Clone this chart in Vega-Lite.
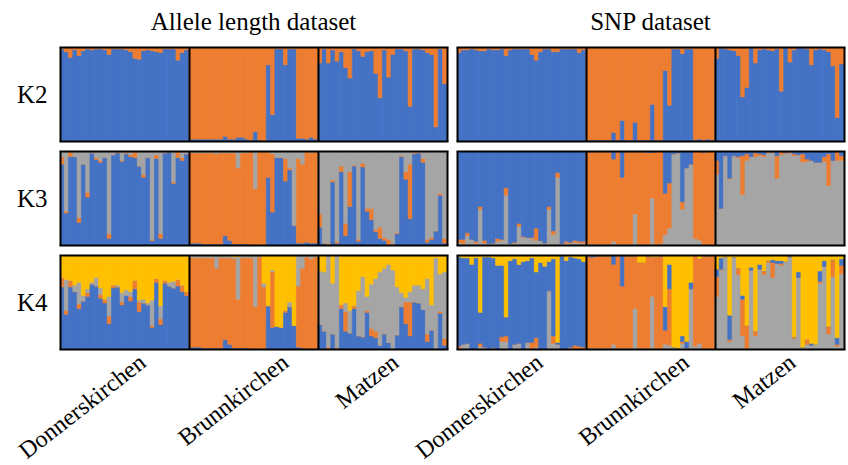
{
"$schema":"https://vega.github.io/schema/vega-lite/v6.json",
"background":"white",
"padding":{"left":14,"top":10,"right":0,"bottom":0},
"spacing":10,
"config":{"view":{"stroke":null},
"scale":{"continuousPadding":0},
"axis":{"ticks":false,"domain":false,"grid":true,"gridWidth":2,"zindex":1,"labelFont":"Liberation Serif","labelFontSize":24,"labelColor":"black","titleFont":"Liberation Serif","titleFontSize":25,"titleFontWeight":"normal","titleColor":"black"},
"axisX":{"gridCap":"butt"},
"axisY":{"gridCap":"square"},
"bar":{"strokeWidth":0.6},
"title":{"font":"Liberation Serif","fontSize":25,"fontWeight":"normal","color":"black","frame":"group","anchor":"middle","offset":12}},
"vconcat":[
{"spacing":10,"bounds":"flush","hconcat":[
{"title":"Allele length dataset","width":387,"height":94,"data":{"name":"AK2"},"transform":[{"fold":["k1b","k2o"]},{"filter":"isValid(datum.value)"}],
"mark":{"type":"bar","width":4.6,"clip":true},
"encoding":{"x":{"field":"i","type":"quantitative","scale":{"domain":[0.5,90.5],"padding":0},"axis":{"zindex":1,"values":[0.5,30.5,60.5,90.5],"gridColor":"black","labels":false,"title":null}},
"y":{"field":"value","type":"quantitative","stack":"normalize","scale":{"domain":[0,1]},"axis":{"zindex":1,"values":[0,1],"gridColor":"black","labels":false,"title":"K2","titleAngle":0,"titleAlign":"right","titleBaseline":"middle","titlePadding":13}},
"color":{"field":"key","type":"nominal","scale":{"domain":["k1b","k2o","k3g","k4y","k1g","k3b"],"range":["#4472C4","#ED7D31","#A5A5A5","#FFC000","#A5A5A5","#4472C4"]},"legend":null},
"stroke":{"field":"key","type":"nominal","scale":{"domain":["k1b","k2o","k3g","k4y","k1g","k3b"],"range":["#4472C4","#ED7D31","#A5A5A5","#FFC000","#A5A5A5","#4472C4"]},"legend":null},
"order":{"field":"key"}}},
{"title":"SNP dataset","width":387,"height":94,"data":{"name":"SK2"},"transform":[{"fold":["k1b","k2o"]},{"filter":"isValid(datum.value)"}],
"mark":{"type":"bar","width":4.6,"clip":true},
"encoding":{"x":{"field":"i","type":"quantitative","scale":{"domain":[0.5,90.5],"padding":0},"axis":{"zindex":1,"values":[0.5,30.5,60.5,90.5],"gridColor":"black","labels":false,"title":null}},
"y":{"field":"value","type":"quantitative","stack":"normalize","scale":{"domain":[0,1]},"axis":{"zindex":1,"values":[0,1],"gridColor":"black","labels":false,"title":null}},
"color":{"field":"key","type":"nominal","scale":{"domain":["k1b","k2o","k3g","k4y","k1g","k3b"],"range":["#4472C4","#ED7D31","#A5A5A5","#FFC000","#A5A5A5","#4472C4"]},"legend":null},
"stroke":{"field":"key","type":"nominal","scale":{"domain":["k1b","k2o","k3g","k4y","k1g","k3b"],"range":["#4472C4","#ED7D31","#A5A5A5","#FFC000","#A5A5A5","#4472C4"]},"legend":null},
"order":{"field":"key"}}}
]},
{"spacing":10,"bounds":"flush","hconcat":[
{"width":387,"height":94,"data":{"name":"AK3"},"transform":[{"fold":["k1b","k2o","k3g"]},{"filter":"isValid(datum.value)"}],
"mark":{"type":"bar","width":4.6,"clip":true},
"encoding":{"x":{"field":"i","type":"quantitative","scale":{"domain":[0.5,90.5],"padding":0},"axis":{"zindex":1,"values":[0.5,30.5,60.5,90.5],"gridColor":"black","labels":false,"title":null}},
"y":{"field":"value","type":"quantitative","stack":"normalize","scale":{"domain":[0,1]},"axis":{"zindex":1,"values":[0,1],"gridColor":"black","labels":false,"title":"K3","titleAngle":0,"titleAlign":"right","titleBaseline":"middle","titlePadding":13}},
"color":{"field":"key","type":"nominal","scale":{"domain":["k1b","k2o","k3g","k4y","k1g","k3b"],"range":["#4472C4","#ED7D31","#A5A5A5","#FFC000","#A5A5A5","#4472C4"]},"legend":null},
"stroke":{"field":"key","type":"nominal","scale":{"domain":["k1b","k2o","k3g","k4y","k1g","k3b"],"range":["#4472C4","#ED7D31","#A5A5A5","#FFC000","#A5A5A5","#4472C4"]},"legend":null},
"order":{"field":"key"}}},
{"width":387,"height":94,"data":{"name":"SK3"},"transform":[{"fold":["k1g","k2o","k3b"]},{"filter":"isValid(datum.value)"}],
"mark":{"type":"bar","width":4.6,"clip":true},
"encoding":{"x":{"field":"i","type":"quantitative","scale":{"domain":[0.5,90.5],"padding":0},"axis":{"zindex":1,"values":[0.5,30.5,60.5,90.5],"gridColor":"black","labels":false,"title":null}},
"y":{"field":"value","type":"quantitative","stack":"normalize","scale":{"domain":[0,1]},"axis":{"zindex":1,"values":[0,1],"gridColor":"black","labels":false,"title":null}},
"color":{"field":"key","type":"nominal","scale":{"domain":["k1b","k2o","k3g","k4y","k1g","k3b"],"range":["#4472C4","#ED7D31","#A5A5A5","#FFC000","#A5A5A5","#4472C4"]},"legend":null},
"stroke":{"field":"key","type":"nominal","scale":{"domain":["k1b","k2o","k3g","k4y","k1g","k3b"],"range":["#4472C4","#ED7D31","#A5A5A5","#FFC000","#A5A5A5","#4472C4"]},"legend":null},
"order":{"field":"key"}}}
]},
{"spacing":10,"bounds":"flush","hconcat":[
{"width":387,"height":94,"data":{"name":"AK4"},"transform":[{"fold":["k1b","k2o","k3g","k4y"]},{"filter":"isValid(datum.value)"}],
"mark":{"type":"bar","width":4.6,"clip":true},
"encoding":{"x":{"field":"i","type":"quantitative","scale":{"domain":[0.5,90.5],"padding":0},"axis":{"zindex":1,"values":[0.5,18,30.5,51.2,60.5,76.8,90.5],"gridColor":{"condition":{"test":"datum.value==0.5||datum.value==30.5||datum.value==60.5||datum.value==90.5","value":"black"},"value":"transparent"},"labelExpr":"datum.value==18?'Donnerskirchen':datum.value==51.2?'Brunnkirchen':datum.value==76.8?'Matzen':''","labelAngle":-38,"labelAlign":"right","labelBaseline":"top","labelPadding":1,"labelFlush":false,"labelOverlap":false,"labelBound":false,"title":null}},
"y":{"field":"value","type":"quantitative","stack":"normalize","scale":{"domain":[0,1]},"axis":{"zindex":1,"values":[0,1],"gridColor":"black","labels":false,"title":"K4","titleAngle":0,"titleAlign":"right","titleBaseline":"middle","titlePadding":13}},
"color":{"field":"key","type":"nominal","scale":{"domain":["k1b","k2o","k3g","k4y","k1g","k3b"],"range":["#4472C4","#ED7D31","#A5A5A5","#FFC000","#A5A5A5","#4472C4"]},"legend":null},
"stroke":{"field":"key","type":"nominal","scale":{"domain":["k1b","k2o","k3g","k4y","k1g","k3b"],"range":["#4472C4","#ED7D31","#A5A5A5","#FFC000","#A5A5A5","#4472C4"]},"legend":null},
"order":{"field":"key"}}},
{"width":387,"height":94,"data":{"name":"SK4"},"transform":[{"fold":["k1g","k2o","k3b","k4y"]},{"filter":"isValid(datum.value)"}],
"mark":{"type":"bar","width":4.6,"clip":true},
"encoding":{"x":{"field":"i","type":"quantitative","scale":{"domain":[0.5,90.5],"padding":0},"axis":{"zindex":1,"values":[0.5,18,30.5,52,60.5,76.8,90.5],"gridColor":{"condition":{"test":"datum.value==0.5||datum.value==30.5||datum.value==60.5||datum.value==90.5","value":"black"},"value":"transparent"},"labelExpr":"datum.value==18?'Donnerskirchen':datum.value==52?'Brunnkirchen':datum.value==76.8?'Matzen':''","labelAngle":-38,"labelAlign":"right","labelBaseline":"top","labelPadding":1,"labelFlush":false,"labelOverlap":false,"labelBound":false,"title":null}},
"y":{"field":"value","type":"quantitative","stack":"normalize","scale":{"domain":[0,1]},"axis":{"zindex":1,"values":[0,1],"gridColor":"black","labels":false,"title":null}},
"color":{"field":"key","type":"nominal","scale":{"domain":["k1b","k2o","k3g","k4y","k1g","k3b"],"range":["#4472C4","#ED7D31","#A5A5A5","#FFC000","#A5A5A5","#4472C4"]},"legend":null},
"stroke":{"field":"key","type":"nominal","scale":{"domain":["k1b","k2o","k3g","k4y","k1g","k3b"],"range":["#4472C4","#ED7D31","#A5A5A5","#FFC000","#A5A5A5","#4472C4"]},"legend":null},
"order":{"field":"key"}}}
]}
],
"datasets":{
"AK2":[
{"i":1,"k1b":0.98,"k2o":0.02},{"i":2,"k1b":0.95,"k2o":0.05},{"i":3,"k1b":0.89,"k2o":0.11},{"i":4,"k1b":0.97,"k2o":0.03},{"i":5,"k1b":0.91,"k2o":0.09},{"i":6,"k1b":0.96,"k2o":0.04},{"i":7,"k1b":0.98,"k2o":0.02},{"i":8,"k1b":0.97,"k2o":0.03},{"i":9,"k1b":0.98,"k2o":0.02},{"i":10,"k1b":0.98,"k2o":0.02},
{"i":11,"k1b":0.97,"k2o":0.03},{"i":12,"k1b":0.92,"k2o":0.08},{"i":13,"k1b":0.98,"k2o":0.02},{"i":14,"k1b":0.98,"k2o":0.02},{"i":15,"k1b":0.98,"k2o":0.02},{"i":16,"k1b":0.97,"k2o":0.03},{"i":17,"k1b":0.95,"k2o":0.05},{"i":18,"k1b":0.88,"k2o":0.12},{"i":19,"k1b":0.87,"k2o":0.13},{"i":20,"k1b":0.96,"k2o":0.04},
{"i":21,"k1b":0.97,"k2o":0.03},{"i":22,"k1b":0.96,"k2o":0.04},{"i":23,"k1b":0.95,"k2o":0.05},{"i":24,"k1b":0.94,"k2o":0.06},{"i":25,"k1b":0.98,"k2o":0.02},{"i":26,"k1b":0.98,"k2o":0.02},{"i":27,"k1b":0.98,"k2o":0.02},{"i":28,"k1b":0.86,"k2o":0.14},{"i":29,"k1b":0.94,"k2o":0.06},{"i":30,"k1b":0.97,"k2o":0.03},
{"i":31,"k1b":0.02,"k2o":0.98},{"i":32,"k1b":0.02,"k2o":0.98},{"i":33,"k1b":0.02,"k2o":0.98},{"i":34,"k1b":0.02,"k2o":0.98},{"i":35,"k1b":0.02,"k2o":0.98},{"i":36,"k1b":0.02,"k2o":0.98},{"i":37,"k1b":0.02,"k2o":0.98},{"i":38,"k1b":0.02,"k2o":0.98},{"i":39,"k1b":0.05,"k2o":0.95},{"i":40,"k1b":0.02,"k2o":0.98},
{"i":41,"k1b":0.02,"k2o":0.98},{"i":42,"k1b":0.04,"k2o":0.96},{"i":43,"k1b":0.04,"k2o":0.96},{"i":44,"k1b":0.02,"k2o":0.98},{"i":45,"k1b":0.01,"k2o":0.99},{"i":46,"k1b":0.1,"k2o":0.9},{"i":47,"k1b":0.01,"k2o":0.99},{"i":48,"k1b":0,"k2o":1},{"i":49,"k1b":0.81,"k2o":0.19},{"i":50,"k1b":0.28,"k2o":0.72},
{"i":51,"k1b":0.98,"k2o":0.02},{"i":52,"k1b":0.98,"k2o":0.02},{"i":53,"k1b":0.81,"k2o":0.19},{"i":54,"k1b":0.98,"k2o":0.02},{"i":55,"k1b":0.98,"k2o":0.02},{"i":56,"k1b":0.03,"k2o":0.97},{"i":57,"k1b":0.03,"k2o":0.97},{"i":58,"k1b":0.02,"k2o":0.98},{"i":59,"k1b":0.04,"k2o":0.96},{"i":60,"k1b":0.02,"k2o":0.98},
{"i":61,"k1b":0.83,"k2o":0.17},{"i":62,"k1b":0.98,"k2o":0.02},{"i":63,"k1b":0.83,"k2o":0.17},{"i":64,"k1b":0.97,"k2o":0.03},{"i":65,"k1b":0.85,"k2o":0.15},{"i":66,"k1b":0.95,"k2o":0.05},{"i":67,"k1b":0.78,"k2o":0.22},{"i":68,"k1b":0.67,"k2o":0.33},{"i":69,"k1b":0.98,"k2o":0.02},{"i":70,"k1b":0.96,"k2o":0.04},
{"i":71,"k1b":0.9,"k2o":0.1},{"i":72,"k1b":0.95,"k2o":0.05},{"i":73,"k1b":0.96,"k2o":0.04},{"i":74,"k1b":0.72,"k2o":0.28},{"i":75,"k1b":0.46,"k2o":0.54},{"i":76,"k1b":0.97,"k2o":0.03},{"i":77,"k1b":0.68,"k2o":0.32},{"i":78,"k1b":0.92,"k2o":0.08},{"i":79,"k1b":0.98,"k2o":0.02},{"i":80,"k1b":0.98,"k2o":0.02},
{"i":81,"k1b":0.96,"k2o":0.04},{"i":82,"k1b":0.37,"k2o":0.63},{"i":83,"k1b":0.98,"k2o":0.02},{"i":84,"k1b":0.98,"k2o":0.02},{"i":85,"k1b":0.97,"k2o":0.03},{"i":86,"k1b":0.94,"k2o":0.06},{"i":87,"k1b":0.92,"k2o":0.08},{"i":88,"k1b":0.15,"k2o":0.85},{"i":89,"k1b":0.98,"k2o":0.02},{"i":90,"k1b":0.61,"k2o":0.39}],
"SK2":[
{"i":1,"k1b":0.94,"k2o":0.06},{"i":2,"k1b":0.97,"k2o":0.03},{"i":3,"k1b":0.97,"k2o":0.03},{"i":4,"k1b":0.98,"k2o":0.02},{"i":5,"k1b":0.97,"k2o":0.03},{"i":6,"k1b":0.96,"k2o":0.04},{"i":7,"k1b":0.96,"k2o":0.04},{"i":8,"k1b":0.98,"k2o":0.02},{"i":9,"k1b":0.97,"k2o":0.03},{"i":10,"k1b":0.97,"k2o":0.03},
{"i":11,"k1b":0.98,"k2o":0.02},{"i":12,"k1b":0.91,"k2o":0.09},{"i":13,"k1b":0.97,"k2o":0.03},{"i":14,"k1b":0.98,"k2o":0.02},{"i":15,"k1b":0.98,"k2o":0.02},{"i":16,"k1b":0.98,"k2o":0.02},{"i":17,"k1b":0.98,"k2o":0.02},{"i":18,"k1b":0.92,"k2o":0.08},{"i":19,"k1b":0.86,"k2o":0.14},{"i":20,"k1b":0.95,"k2o":0.05},
{"i":21,"k1b":0.98,"k2o":0.02},{"i":22,"k1b":0.98,"k2o":0.02},{"i":23,"k1b":0.95,"k2o":0.05},{"i":24,"k1b":0.95,"k2o":0.05},{"i":25,"k1b":0.98,"k2o":0.02},{"i":26,"k1b":0.98,"k2o":0.02},{"i":27,"k1b":0.98,"k2o":0.02},{"i":28,"k1b":0.98,"k2o":0.02},{"i":29,"k1b":0.94,"k2o":0.06},{"i":30,"k1b":0.97,"k2o":0.03},
{"i":31,"k1b":0.01,"k2o":0.99},{"i":32,"k1b":0.01,"k2o":0.99},{"i":33,"k1b":0.01,"k2o":0.99},{"i":34,"k1b":0.01,"k2o":0.99},{"i":35,"k1b":0.01,"k2o":0.99},{"i":36,"k1b":0.01,"k2o":0.99},{"i":37,"k1b":0.09,"k2o":0.91},{"i":38,"k1b":0.01,"k2o":0.99},{"i":39,"k1b":0.22,"k2o":0.78},{"i":40,"k1b":0.01,"k2o":0.99},
{"i":41,"k1b":0.01,"k2o":0.99},{"i":42,"k1b":0.2,"k2o":0.8},{"i":43,"k1b":0.01,"k2o":0.99},{"i":44,"k1b":0.01,"k2o":0.99},{"i":45,"k1b":0.01,"k2o":0.99},{"i":46,"k1b":0.39,"k2o":0.61},{"i":47,"k1b":0.01,"k2o":0.99},{"i":48,"k1b":0.01,"k2o":0.99},{"i":49,"k1b":0.75,"k2o":0.25},{"i":50,"k1b":0.38,"k2o":0.62},
{"i":51,"k1b":0.98,"k2o":0.02},{"i":52,"k1b":0.98,"k2o":0.02},{"i":53,"k1b":0.93,"k2o":0.07},{"i":54,"k1b":0.98,"k2o":0.02},{"i":55,"k1b":0.98,"k2o":0.02},{"i":56,"k1b":0.01,"k2o":0.99},{"i":57,"k1b":0.02,"k2o":0.98},{"i":58,"k1b":0.01,"k2o":0.99},{"i":59,"k1b":0.02,"k2o":0.98},{"i":60,"k1b":0.01,"k2o":0.99},
{"i":61,"k1b":0.88,"k2o":0.12},{"i":62,"k1b":0.99,"k2o":0.01},{"i":63,"k1b":0.98,"k2o":0.02},{"i":64,"k1b":0.97,"k2o":0.03},{"i":65,"k1b":0.96,"k2o":0.04},{"i":66,"k1b":0.91,"k2o":0.09},{"i":67,"k1b":0.47,"k2o":0.53},{"i":68,"k1b":0.57,"k2o":0.43},{"i":69,"k1b":0.99,"k2o":0.01},{"i":70,"k1b":0.83,"k2o":0.17},
{"i":71,"k1b":0.97,"k2o":0.03},{"i":72,"k1b":0.98,"k2o":0.02},{"i":73,"k1b":0.97,"k2o":0.03},{"i":74,"k1b":0.96,"k2o":0.04},{"i":75,"k1b":0.98,"k2o":0.02},{"i":76,"k1b":0.53,"k2o":0.47},{"i":77,"k1b":0.99,"k2o":0.01},{"i":78,"k1b":0.84,"k2o":0.16},{"i":79,"k1b":0.97,"k2o":0.03},{"i":80,"k1b":0.99,"k2o":0.01},
{"i":81,"k1b":0.99,"k2o":0.01},{"i":82,"k1b":0.98,"k2o":0.02},{"i":83,"k1b":0.81,"k2o":0.19},{"i":84,"k1b":0.97,"k2o":0.03},{"i":85,"k1b":0.98,"k2o":0.02},{"i":86,"k1b":0.97,"k2o":0.03},{"i":87,"k1b":0.95,"k2o":0.05},{"i":88,"k1b":0.8,"k2o":0.2},{"i":89,"k1b":0.25,"k2o":0.75},{"i":90,"k1b":0.82,"k2o":0.18}],
"AK3":[
{"i":1,"k1b":0.86,"k2o":0.08,"k3g":0.06},{"i":2,"k1b":0.34,"k2o":0.02,"k3g":0.64},{"i":3,"k1b":0.94,"k2o":0.05,"k3g":0.01},{"i":4,"k1b":0.94,"k2o":0,"k3g":0.06},{"i":5,"k1b":0.24,"k2o":0.05,"k3g":0.71},{"i":6,"k1b":0.86,"k2o":0,"k3g":0.14},{"i":7,"k1b":0.51,"k2o":0.05,"k3g":0.44},{"i":8,"k1b":0.98,"k2o":0,"k3g":0.02},{"i":9,"k1b":0.91,"k2o":0.02,"k3g":0.07},{"i":10,"k1b":0.88,"k2o":0.02,"k3g":0.1},
{"i":11,"k1b":0.93,"k2o":0,"k3g":0.07},{"i":12,"k1b":0.07,"k2o":0.05,"k3g":0.88},{"i":13,"k1b":0.96,"k2o":0,"k3g":0.04},{"i":14,"k1b":0.98,"k2o":0.01,"k3g":0.01},{"i":15,"k1b":0.89,"k2o":0.01,"k3g":0.1},{"i":16,"k1b":0.97,"k2o":0.01,"k3g":0.02},{"i":17,"k1b":0.94,"k2o":0.02,"k3g":0.04},{"i":18,"k1b":0.93,"k2o":0.06,"k3g":0.01},{"i":19,"k1b":0.84,"k2o":0,"k3g":0.16},{"i":20,"k1b":0.72,"k2o":0.03,"k3g":0.25},
{"i":21,"k1b":0.93,"k2o":0,"k3g":0.07},{"i":22,"k1b":0.045,"k2o":0.015,"k3g":0.94},{"i":23,"k1b":0.92,"k2o":0.04,"k3g":0.04},{"i":24,"k1b":0.07,"k2o":0.05,"k3g":0.88},{"i":25,"k1b":0.98,"k2o":0,"k3g":0.02},{"i":26,"k1b":0.99,"k2o":0,"k3g":0.01},{"i":27,"k1b":0.655,"k2o":0.015,"k3g":0.33},{"i":28,"k1b":0.93,"k2o":0.06,"k3g":0.01},{"i":29,"k1b":0.9,"k2o":0.03,"k3g":0.07},{"i":30,"k1b":0.97,"k2o":0,"k3g":0.03},
{"i":31,"k1b":0.02,"k2o":0.96,"k3g":0.02},{"i":32,"k1b":0.02,"k2o":0.96,"k3g":0.02},{"i":33,"k1b":0.02,"k2o":0.96,"k3g":0.02},{"i":34,"k1b":0.01,"k2o":0.97,"k3g":0.02},{"i":35,"k1b":0.01,"k2o":0.97,"k3g":0.02},{"i":36,"k1b":0.01,"k2o":0.97,"k3g":0.02},{"i":37,"k1b":0.01,"k2o":0.96,"k3g":0.03},{"i":38,"k1b":0.01,"k2o":0.97,"k3g":0.02},{"i":39,"k1b":0.1,"k2o":0.88,"k3g":0.02},{"i":40,"k1b":0.05,"k2o":0.93,"k3g":0.02},
{"i":41,"k1b":0.01,"k2o":0.97,"k3g":0.02},{"i":42,"k1b":0.01,"k2o":0.81,"k3g":0.18},{"i":43,"k1b":0.01,"k2o":0.97,"k3g":0.02},{"i":44,"k1b":0.01,"k2o":0.97,"k3g":0.02},{"i":45,"k1b":0,"k2o":0.99,"k3g":0.01},{"i":46,"k1b":0,"k2o":0.6,"k3g":0.4},{"i":47,"k1b":0,"k2o":0.99,"k3g":0.01},{"i":48,"k1b":0,"k2o":0.99,"k3g":0.01},{"i":49,"k1b":0.72,"k2o":0.27,"k3g":0.01},{"i":50,"k1b":0.35,"k2o":0.62,"k3g":0.03},
{"i":51,"k1b":0.93,"k2o":0,"k3g":0.07},{"i":52,"k1b":0.93,"k2o":0,"k3g":0.07},{"i":53,"k1b":0.68,"k2o":0.24,"k3g":0.08},{"i":54,"k1b":0.8,"k2o":0.02,"k3g":0.18},{"i":55,"k1b":0.21,"k2o":0,"k3g":0.79},{"i":56,"k1b":0.02,"k2o":0.9,"k3g":0.08},{"i":57,"k1b":0.02,"k2o":0.84,"k3g":0.14},{"i":58,"k1b":0.03,"k2o":0.97,"k3g":0},{"i":59,"k1b":0.02,"k2o":0.96,"k3g":0.02},{"i":60,"k1b":0.02,"k2o":0.97,"k3g":0.01},
{"i":61,"k1b":0.19,"k2o":0.14,"k3g":0.67},{"i":62,"k1b":0.02,"k2o":0,"k3g":0.98},{"i":63,"k1b":0,"k2o":0.015,"k3g":0.985},{"i":64,"k1b":0.67,"k2o":0.02,"k3g":0.31},{"i":65,"k1b":0.02,"k2o":0.02,"k3g":0.96},{"i":66,"k1b":0.78,"k2o":0.06,"k3g":0.16},{"i":67,"k1b":0.1,"k2o":0.13,"k3g":0.77},{"i":68,"k1b":0.41,"k2o":0.37,"k3g":0.22},{"i":69,"k1b":0.84,"k2o":0.01,"k3g":0.15},{"i":70,"k1b":0.04,"k2o":0.02,"k3g":0.94},
{"i":71,"k1b":0.83,"k2o":0.04,"k3g":0.13},{"i":72,"k1b":0.36,"k2o":0.03,"k3g":0.61},{"i":73,"k1b":0.27,"k2o":0.12,"k3g":0.61},{"i":74,"k1b":0.14,"k2o":0.02,"k3g":0.84},{"i":75,"k1b":0.07,"k2o":0.12,"k3g":0.81},{"i":76,"k1b":0.05,"k2o":0.03,"k3g":0.92},{"i":77,"k1b":0,"k2o":0.06,"k3g":0.94},{"i":78,"k1b":0,"k2o":0.01,"k3g":0.99},{"i":79,"k1b":0.12,"k2o":0.01,"k3g":0.87},{"i":80,"k1b":0.94,"k2o":0.01,"k3g":0.05},
{"i":81,"k1b":0.7,"k2o":0.08,"k3g":0.22},{"i":82,"k1b":0.28,"k2o":0.58,"k3g":0.14},{"i":83,"k1b":0.97,"k2o":0.01,"k3g":0.02},{"i":84,"k1b":0.98,"k2o":0,"k3g":0.02},{"i":85,"k1b":0.88,"k2o":0.04,"k3g":0.08},{"i":86,"k1b":0.03,"k2o":0.03,"k3g":0.94},{"i":87,"k1b":0.06,"k2o":0.02,"k3g":0.92},{"i":88,"k1b":0.15,"k2o":0,"k3g":0.85},{"i":89,"k1b":0.53,"k2o":0.02,"k3g":0.45},{"i":90,"k1b":0.02,"k2o":0.05,"k3g":0.93}],
"SK3":[
{"i":1,"k1g":0.03,"k2o":0.03,"k3b":0.94},{"i":2,"k1g":0.015,"k2o":0.045,"k3b":0.94},{"i":3,"k1g":0.1,"k2o":0.03,"k3b":0.87},{"i":4,"k1g":0.06,"k2o":0,"k3b":0.94},{"i":5,"k1g":0.02,"k2o":0.02,"k3b":0.96},{"i":6,"k1g":0.38,"k2o":0.03,"k3b":0.59},{"i":7,"k1g":0.02,"k2o":0.03,"k3b":0.95},{"i":8,"k1g":0.015,"k2o":0,"k3b":0.985},{"i":9,"k1g":0.02,"k2o":0,"k3b":0.98},{"i":10,"k1g":0.04,"k2o":0.03,"k3b":0.93},
{"i":11,"k1g":0.05,"k2o":0.01,"k3b":0.94},{"i":12,"k1g":0.53,"k2o":0.08,"k3b":0.39},{"i":13,"k1g":0.015,"k2o":0,"k3b":0.985},{"i":14,"k1g":0.02,"k2o":0.01,"k3b":0.97},{"i":15,"k1g":0.2,"k2o":0.03,"k3b":0.77},{"i":16,"k1g":0.08,"k2o":0.01,"k3b":0.91},{"i":17,"k1g":0.08,"k2o":0,"k3b":0.92},{"i":18,"k1g":0.07,"k2o":0.01,"k3b":0.92},{"i":19,"k1g":0.05,"k2o":0.13,"k3b":0.82},{"i":20,"k1g":0.045,"k2o":0,"k3b":0.955},
{"i":21,"k1g":0.02,"k2o":0,"k3b":0.98},{"i":22,"k1g":0.38,"k2o":0.03,"k3b":0.59},{"i":23,"k1g":0.11,"k2o":0.04,"k3b":0.85},{"i":24,"k1g":0.72,"k2o":0.05,"k3b":0.23},{"i":25,"k1g":0.015,"k2o":0,"k3b":0.985},{"i":26,"k1g":0.02,"k2o":0.02,"k3b":0.96},{"i":27,"k1g":0.02,"k2o":0.01,"k3b":0.97},{"i":28,"k1g":0.03,"k2o":0.02,"k3b":0.95},{"i":29,"k1g":0.02,"k2o":0.02,"k3b":0.96},{"i":30,"k1g":0.02,"k2o":0.02,"k3b":0.96},
{"i":31,"k1g":0.01,"k2o":0.98,"k3b":0.01},{"i":32,"k1g":0.01,"k2o":0.98,"k3b":0.01},{"i":33,"k1g":0.01,"k2o":0.98,"k3b":0.01},{"i":34,"k1g":0.01,"k2o":0.98,"k3b":0.01},{"i":35,"k1g":0.01,"k2o":0.98,"k3b":0.01},{"i":36,"k1g":0.01,"k2o":0.98,"k3b":0.01},{"i":37,"k1g":0.04,"k2o":0.875,"k3b":0.085},{"i":38,"k1g":0.01,"k2o":0.98,"k3b":0.01},{"i":39,"k1g":0.01,"k2o":0.71,"k3b":0.28},{"i":40,"k1g":0.01,"k2o":0.98,"k3b":0.01},
{"i":41,"k1g":0.01,"k2o":0.98,"k3b":0.01},{"i":42,"k1g":0.33,"k2o":0.66,"k3b":0.01},{"i":43,"k1g":0.01,"k2o":0.98,"k3b":0.01},{"i":44,"k1g":0.01,"k2o":0.98,"k3b":0.01},{"i":45,"k1g":0,"k2o":0.985,"k3b":0.015},{"i":46,"k1g":0.5,"k2o":0.485,"k3b":0.015},{"i":47,"k1g":0,"k2o":1,"k3b":0},{"i":48,"k1g":0.015,"k2o":0.985,"k3b":0},{"i":49,"k1g":0.11,"k2o":0.44,"k3b":0.45},{"i":50,"k1g":0.18,"k2o":0.48,"k3b":0.34},
{"i":51,"k1g":0.97,"k2o":0,"k3b":0.03},{"i":52,"k1g":0.98,"k2o":0,"k3b":0.02},{"i":53,"k1g":0.38,"k2o":0.08,"k3b":0.54},{"i":54,"k1g":0.82,"k2o":0,"k3b":0.18},{"i":55,"k1g":0.86,"k2o":0,"k3b":0.14},{"i":56,"k1g":0.07,"k2o":0.93,"k3b":0},{"i":57,"k1g":0.05,"k2o":0.95,"k3b":0},{"i":58,"k1g":0,"k2o":0.985,"k3b":0.015},{"i":59,"k1g":0,"k2o":1,"k3b":0},{"i":60,"k1g":0,"k2o":1,"k3b":0},
{"i":61,"k1g":0.75,"k2o":0.15,"k3b":0.1},{"i":62,"k1g":0.39,"k2o":0,"k3b":0.61},{"i":63,"k1g":0.95,"k2o":0,"k3b":0.05},{"i":64,"k1g":0.7,"k2o":0.01,"k3b":0.29},{"i":65,"k1g":0.95,"k2o":0,"k3b":0.05},{"i":66,"k1g":0.925,"k2o":0.015,"k3b":0.06},{"i":67,"k1g":0.535,"k2o":0.415,"k3b":0.05},{"i":68,"k1g":0.9,"k2o":0.07,"k3b":0.03},{"i":69,"k1g":0.94,"k2o":0,"k3b":0.06},{"i":70,"k1g":0.94,"k2o":0.04,"k3b":0.02},
{"i":71,"k1g":0.95,"k2o":0.02,"k3b":0.03},{"i":72,"k1g":0.94,"k2o":0.02,"k3b":0.04},{"i":73,"k1g":0.98,"k2o":0.01,"k3b":0.01},{"i":74,"k1g":0.99,"k2o":0,"k3b":0.01},{"i":75,"k1g":0.71,"k2o":0.24,"k3b":0.05},{"i":76,"k1g":0.96,"k2o":0.03,"k3b":0.01},{"i":77,"k1g":0.97,"k2o":0.01,"k3b":0.02},{"i":78,"k1g":0.98,"k2o":0.01,"k3b":0.01},{"i":79,"k1g":0.95,"k2o":0.02,"k3b":0.03},{"i":80,"k1g":0.96,"k2o":0,"k3b":0.04},
{"i":81,"k1g":0.88,"k2o":0.09,"k3b":0.03},{"i":82,"k1g":0.89,"k2o":0.025,"k3b":0.085},{"i":83,"k1g":0.9,"k2o":0,"k3b":0.1},{"i":84,"k1g":0.88,"k2o":0,"k3b":0.12},{"i":85,"k1g":0.88,"k2o":0,"k3b":0.12},{"i":86,"k1g":0.89,"k2o":0.05,"k3b":0.06},{"i":87,"k1g":0.63,"k2o":0.34,"k3b":0.03},{"i":88,"k1g":0.9,"k2o":0,"k3b":0.1},{"i":89,"k1g":0.9,"k2o":0.09,"k3b":0.01},{"i":90,"k1g":0.9,"k2o":0.05,"k3b":0.05}],
"AK4":[
{"i":1,"k1b":0.66,"k2o":0.1,"k3g":0,"k4y":0.24},{"i":2,"k1b":0.37,"k2o":0.04,"k3g":0.33,"k4y":0.26},{"i":3,"k1b":0.66,"k2o":0.07,"k3g":0,"k4y":0.27},{"i":4,"k1b":0.61,"k2o":0,"k3g":0.07,"k4y":0.32},{"i":5,"k1b":0.43,"k2o":0.05,"k3g":0.23,"k4y":0.29},{"i":6,"k1b":0.51,"k2o":0,"k3g":0.06,"k4y":0.43},{"i":7,"k1b":0.56,"k2o":0.04,"k3g":0.04,"k4y":0.36},{"i":8,"k1b":0.69,"k2o":0,"k3g":0.02,"k4y":0.29},{"i":9,"k1b":0.67,"k2o":0,"k3g":0.09,"k4y":0.24},{"i":10,"k1b":0.54,"k2o":0.04,"k3g":0.07,"k4y":0.35},
{"i":11,"k1b":0.49,"k2o":0.04,"k3g":0,"k4y":0.47},{"i":12,"k1b":0.27,"k2o":0.08,"k3g":0.21,"k4y":0.44},{"i":13,"k1b":0.65,"k2o":0.03,"k3g":0,"k4y":0.32},{"i":14,"k1b":0.66,"k2o":0,"k3g":0.02,"k4y":0.32},{"i":15,"k1b":0.47,"k2o":0.03,"k3g":0.1,"k4y":0.4},{"i":16,"k1b":0.57,"k2o":0,"k3g":0.06,"k4y":0.37},{"i":17,"k1b":0.51,"k2o":0.05,"k3g":0.05,"k4y":0.39},{"i":18,"k1b":0.64,"k2o":0.09,"k3g":0,"k4y":0.27},{"i":19,"k1b":0.4,"k2o":0.1,"k3g":0.02,"k4y":0.48},{"i":20,"k1b":0.49,"k2o":0,"k3g":0.04,"k4y":0.47},
{"i":21,"k1b":0.47,"k2o":0,"k3g":0.02,"k4y":0.51},{"i":22,"k1b":0.23,"k2o":0.02,"k3g":0.27,"k4y":0.48},{"i":23,"k1b":0.71,"k2o":0.04,"k3g":0,"k4y":0.25},{"i":24,"k1b":0.26,"k2o":0.06,"k3g":0.14,"k4y":0.54},{"i":25,"k1b":0.7,"k2o":0.03,"k3g":0,"k4y":0.27},{"i":26,"k1b":0.67,"k2o":0,"k3g":0.04,"k4y":0.29},{"i":27,"k1b":0.65,"k2o":0,"k3g":0.07,"k4y":0.28},{"i":28,"k1b":0.67,"k2o":0.07,"k3g":0,"k4y":0.26},{"i":29,"k1b":0.61,"k2o":0.07,"k3g":0,"k4y":0.32},{"i":30,"k1b":0.57,"k2o":0.04,"k3g":0,"k4y":0.39},
{"i":31,"k1b":0.02,"k2o":0.95,"k3g":0.02,"k4y":0.01},{"i":32,"k1b":0.02,"k2o":0.95,"k3g":0.02,"k4y":0.01},{"i":33,"k1b":0.02,"k2o":0.95,"k3g":0.02,"k4y":0.01},{"i":34,"k1b":0.01,"k2o":0.96,"k3g":0.02,"k4y":0.01},{"i":35,"k1b":0.01,"k2o":0.96,"k3g":0.02,"k4y":0.01},{"i":36,"k1b":0.01,"k2o":0.96,"k3g":0.02,"k4y":0.01},{"i":37,"k1b":0.01,"k2o":0.85,"k3g":0.14,"k4y":0},{"i":38,"k1b":0.01,"k2o":0.96,"k3g":0.02,"k4y":0.01},{"i":39,"k1b":0.1,"k2o":0.87,"k3g":0.02,"k4y":0.01},{"i":40,"k1b":0.05,"k2o":0.92,"k3g":0.02,"k4y":0.01},
{"i":41,"k1b":0.01,"k2o":0.95,"k3g":0.02,"k4y":0.02},{"i":42,"k1b":0.01,"k2o":0.52,"k3g":0.45,"k4y":0.02},{"i":43,"k1b":0.01,"k2o":0.96,"k3g":0.02,"k4y":0.01},{"i":44,"k1b":0.01,"k2o":0.96,"k3g":0.02,"k4y":0.01},{"i":45,"k1b":0,"k2o":0.97,"k3g":0.03,"k4y":0},{"i":46,"k1b":0,"k2o":0.45,"k3g":0.54,"k4y":0.01},{"i":47,"k1b":0,"k2o":0.98,"k3g":0.02,"k4y":0},{"i":48,"k1b":0,"k2o":0.66,"k3g":0.04,"k4y":0.3},{"i":49,"k1b":0.46,"k2o":0,"k3g":0,"k4y":0.54},{"i":50,"k1b":0.23,"k2o":0.59,"k3g":0.02,"k4y":0.16},
{"i":51,"k1b":0.24,"k2o":0,"k3g":0,"k4y":0.76},{"i":52,"k1b":0.23,"k2o":0,"k3g":0,"k4y":0.77},{"i":53,"k1b":0.39,"k2o":0.02,"k3g":0,"k4y":0.59},{"i":54,"k1b":0.45,"k2o":0,"k3g":0.05,"k4y":0.5},{"i":55,"k1b":0.25,"k2o":0,"k3g":0,"k4y":0.75},{"i":56,"k1b":0.02,"k2o":0.65,"k3g":0.33,"k4y":0},{"i":57,"k1b":0.01,"k2o":0.85,"k3g":0.14,"k4y":0},{"i":58,"k1b":0,"k2o":0.98,"k3g":0.02,"k4y":0},{"i":59,"k1b":0,"k2o":0.96,"k3g":0.03,"k4y":0.01},{"i":60,"k1b":0,"k2o":0.98,"k3g":0.02,"k4y":0},
{"i":61,"k1b":0.26,"k2o":0,"k3g":0.57,"k4y":0.17},{"i":62,"k1b":0.19,"k2o":0,"k3g":0.63,"k4y":0.18},{"i":63,"k1b":0,"k2o":0.02,"k3g":0.98,"k4y":0},{"i":64,"k1b":0.16,"k2o":0,"k3g":0.54,"k4y":0.3},{"i":65,"k1b":0,"k2o":0.01,"k3g":0.99,"k4y":0},{"i":66,"k1b":0.43,"k2o":0.04,"k3g":0,"k4y":0.53},{"i":67,"k1b":0.19,"k2o":0.21,"k3g":0.09,"k4y":0.51},{"i":68,"k1b":0.17,"k2o":0,"k3g":0.24,"k4y":0.59},{"i":69,"k1b":0.43,"k2o":0.03,"k3g":0,"k4y":0.54},{"i":70,"k1b":0.14,"k2o":0,"k3g":0.48,"k4y":0.38},
{"i":71,"k1b":0.13,"k2o":0,"k3g":0.64,"k4y":0.23},{"i":72,"k1b":0.39,"k2o":0.02,"k3g":0.15,"k4y":0.44},{"i":73,"k1b":0.14,"k2o":0.08,"k3g":0.47,"k4y":0.31},{"i":74,"k1b":0.12,"k2o":0.07,"k3g":0.56,"k4y":0.25},{"i":75,"k1b":0.04,"k2o":0,"k3g":0.78,"k4y":0.18},{"i":76,"k1b":0.16,"k2o":0,"k3g":0.7,"k4y":0.14},{"i":77,"k1b":0.07,"k2o":0,"k3g":0.83,"k4y":0.1},{"i":78,"k1b":0,"k2o":0,"k3g":0.84,"k4y":0.16},{"i":79,"k1b":0.15,"k2o":0,"k3g":0.51,"k4y":0.34},{"i":80,"k1b":0.45,"k2o":0,"k3g":0.15,"k4y":0.4},
{"i":81,"k1b":0.27,"k2o":0.23,"k3g":0.05,"k4y":0.45},{"i":82,"k1b":0.14,"k2o":0.36,"k3g":0.11,"k4y":0.39},{"i":83,"k1b":0.5,"k2o":0,"k3g":0.18,"k4y":0.32},{"i":84,"k1b":0.49,"k2o":0,"k3g":0.19,"k4y":0.32},{"i":85,"k1b":0.42,"k2o":0,"k3g":0.22,"k4y":0.36},{"i":86,"k1b":0.08,"k2o":0.08,"k3g":0.59,"k4y":0.25},{"i":87,"k1b":0.2,"k2o":0,"k3g":0.27,"k4y":0.53},{"i":88,"k1b":0,"k2o":0,"k3g":0.97,"k4y":0.03},{"i":89,"k1b":0.38,"k2o":0.02,"k3g":0.4,"k4y":0.2},{"i":90,"k1b":0.04,"k2o":0.07,"k3g":0.71,"k4y":0.18}],
"SK4":[
{"i":1,"k1g":0,"k2o":0.03,"k3b":0.95,"k4y":0.02},{"i":2,"k1g":0.05,"k2o":0,"k3b":0.92,"k4y":0.03},{"i":3,"k1g":0.06,"k2o":0,"k3b":0.91,"k4y":0.03},{"i":4,"k1g":0,"k2o":0,"k3b":0.9,"k4y":0.1},{"i":5,"k1g":0,"k2o":0,"k3b":0.97,"k4y":0.03},{"i":6,"k1g":0.03,"k2o":0.03,"k3b":0.33,"k4y":0.61},{"i":7,"k1g":0.02,"k2o":0,"k3b":0.96,"k4y":0.02},{"i":8,"k1g":0,"k2o":0,"k3b":0.98,"k4y":0.02},{"i":9,"k1g":0.015,"k2o":0,"k3b":0.955,"k4y":0.03},{"i":10,"k1g":0,"k2o":0,"k3b":0.89,"k4y":0.11},
{"i":11,"k1g":0.08,"k2o":0.05,"k3b":0.76,"k4y":0.11},{"i":12,"k1g":0.08,"k2o":0.06,"k3b":0.2,"k4y":0.66},{"i":13,"k1g":0,"k2o":0,"k3b":0.94,"k4y":0.06},{"i":14,"k1g":0.05,"k2o":0,"k3b":0.91,"k4y":0.04},{"i":15,"k1g":0.06,"k2o":0,"k3b":0.84,"k4y":0.1},{"i":16,"k1g":0,"k2o":0,"k3b":0.93,"k4y":0.07},{"i":17,"k1g":0.07,"k2o":0,"k3b":0.87,"k4y":0.06},{"i":18,"k1g":0,"k2o":0.07,"k3b":0.9,"k4y":0.03},{"i":19,"k1g":0.02,"k2o":0.1,"k3b":0.7,"k4y":0.18},{"i":20,"k1g":0,"k2o":0,"k3b":0.92,"k4y":0.08},
{"i":21,"k1g":0,"k2o":0,"k3b":0.88,"k4y":0.12},{"i":22,"k1g":0.62,"k2o":0,"k3b":0.31,"k4y":0.07},{"i":23,"k1g":0.06,"k2o":0.08,"k3b":0.82,"k4y":0.04},{"i":24,"k1g":0.05,"k2o":0,"k3b":0.02,"k4y":0.93},{"i":25,"k1g":0,"k2o":0,"k3b":0.99,"k4y":0.01},{"i":26,"k1g":0,"k2o":0,"k3b":0.94,"k4y":0.06},{"i":27,"k1g":0.02,"k2o":0,"k3b":0.96,"k4y":0.02},{"i":28,"k1g":0,"k2o":0.04,"k3b":0.93,"k4y":0.03},{"i":29,"k1g":0,"k2o":0.03,"k3b":0.93,"k4y":0.04},{"i":30,"k1g":0,"k2o":0.02,"k3b":0.91,"k4y":0.07},
{"i":31,"k1g":0.01,"k2o":0.98,"k3b":0,"k4y":0.01},{"i":32,"k1g":0.01,"k2o":0.965,"k3b":0.015,"k4y":0.01},{"i":33,"k1g":0.01,"k2o":0.975,"k3b":0.015,"k4y":0},{"i":34,"k1g":0.01,"k2o":0.98,"k3b":0,"k4y":0.01},{"i":35,"k1g":0.01,"k2o":0.98,"k3b":0,"k4y":0.01},{"i":36,"k1g":0.01,"k2o":0.98,"k3b":0,"k4y":0.01},{"i":37,"k1g":0.05,"k2o":0.85,"k3b":0.1,"k4y":0},{"i":38,"k1g":0.01,"k2o":0.98,"k3b":0,"k4y":0.01},{"i":39,"k1g":0.01,"k2o":0.66,"k3b":0.33,"k4y":0},{"i":40,"k1g":0.01,"k2o":0.98,"k3b":0,"k4y":0.01},
{"i":41,"k1g":0.01,"k2o":0.98,"k3b":0,"k4y":0.01},{"i":42,"k1g":0.43,"k2o":0.56,"k3b":0,"k4y":0.01},{"i":43,"k1g":0.01,"k2o":0.91,"k3b":0,"k4y":0.08},{"i":44,"k1g":0.01,"k2o":0.91,"k3b":0,"k4y":0.08},{"i":45,"k1g":0,"k2o":0.99,"k3b":0,"k4y":0.01},{"i":46,"k1g":0.56,"k2o":0.42,"k3b":0,"k4y":0.02},{"i":47,"k1g":0,"k2o":0.98,"k3b":0,"k4y":0.02},{"i":48,"k1g":0,"k2o":0.99,"k3b":0,"k4y":0.01},{"i":49,"k1g":0.05,"k2o":0.15,"k3b":0.25,"k4y":0.55},{"i":50,"k1g":0.04,"k2o":0.6,"k3b":0.26,"k4y":0.1},
{"i":51,"k1g":0.02,"k2o":0,"k3b":0,"k4y":0.98},{"i":52,"k1g":0.01,"k2o":0,"k3b":0,"k4y":0.99},{"i":53,"k1g":0.06,"k2o":0.02,"k3b":0.06,"k4y":0.86},{"i":54,"k1g":0.01,"k2o":0,"k3b":0.07,"k4y":0.92},{"i":55,"k1g":0.64,"k2o":0,"k3b":0.07,"k4y":0.29},{"i":56,"k1g":0.03,"k2o":0.97,"k3b":0,"k4y":0},{"i":57,"k1g":0.06,"k2o":0.9,"k3b":0,"k4y":0.04},{"i":58,"k1g":0,"k2o":0.99,"k3b":0,"k4y":0.01},{"i":59,"k1g":0,"k2o":0.99,"k3b":0,"k4y":0.01},{"i":60,"k1g":0,"k2o":1,"k3b":0,"k4y":0},
{"i":61,"k1g":0.56,"k2o":0.21,"k3b":0.08,"k4y":0.15},{"i":62,"k1g":0.84,"k2o":0.01,"k3b":0.12,"k4y":0.03},{"i":63,"k1g":0.98,"k2o":0,"k3b":0,"k4y":0.02},{"i":64,"k1g":0.08,"k2o":0.02,"k3b":0.26,"k4y":0.64},{"i":65,"k1g":0.98,"k2o":0,"k3b":0,"k4y":0.02},{"i":66,"k1g":0.79,"k2o":0.07,"k3b":0,"k4y":0.14},{"i":67,"k1g":0.14,"k2o":0.39,"k3b":0.04,"k4y":0.43},{"i":68,"k1g":0,"k2o":0.25,"k3b":0,"k4y":0.75},{"i":69,"k1g":0.84,"k2o":0,"k3b":0.03,"k4y":0.13},{"i":70,"k1g":0.14,"k2o":0.05,"k3b":0,"k4y":0.81},
{"i":71,"k1g":0.85,"k2o":0,"k3b":0.05,"k4y":0.1},{"i":72,"k1g":0.79,"k2o":0.04,"k3b":0,"k4y":0.17},{"i":73,"k1g":0.92,"k2o":0.02,"k3b":0,"k4y":0.06},{"i":74,"k1g":0.76,"k2o":0.16,"k3b":0.03,"k4y":0.05},{"i":75,"k1g":0.91,"k2o":0,"k3b":0.03,"k4y":0.06},{"i":76,"k1g":0.89,"k2o":0.02,"k3b":0.03,"k4y":0.06},{"i":77,"k1g":0.93,"k2o":0,"k3b":0,"k4y":0.07},{"i":78,"k1g":0.98,"k2o":0,"k3b":0.01,"k4y":0.01},{"i":79,"k1g":0.11,"k2o":0.02,"k3b":0,"k4y":0.87},{"i":80,"k1g":0.76,"k2o":0,"k3b":0.06,"k4y":0.18},
{"i":81,"k1g":0.02,"k2o":0,"k3b":0,"k4y":0.98},{"i":82,"k1g":0.05,"k2o":0.05,"k3b":0,"k4y":0.9},{"i":83,"k1g":0.04,"k2o":0,"k3b":0.02,"k4y":0.94},{"i":84,"k1g":0.05,"k2o":0,"k3b":0,"k4y":0.95},{"i":85,"k1g":0.7,"k2o":0.02,"k3b":0.11,"k4y":0.17},{"i":86,"k1g":0.88,"k2o":0,"k3b":0.06,"k4y":0.06},{"i":87,"k1g":0.16,"k2o":0.08,"k3b":0,"k4y":0.76},{"i":88,"k1g":0.77,"k2o":0.18,"k3b":0,"k4y":0.05},{"i":89,"k1g":0.03,"k2o":0.02,"k3b":0.07,"k4y":0.88},{"i":90,"k1g":0.8,"k2o":0.09,"k3b":0.07,"k4y":0.04}]
}
}
